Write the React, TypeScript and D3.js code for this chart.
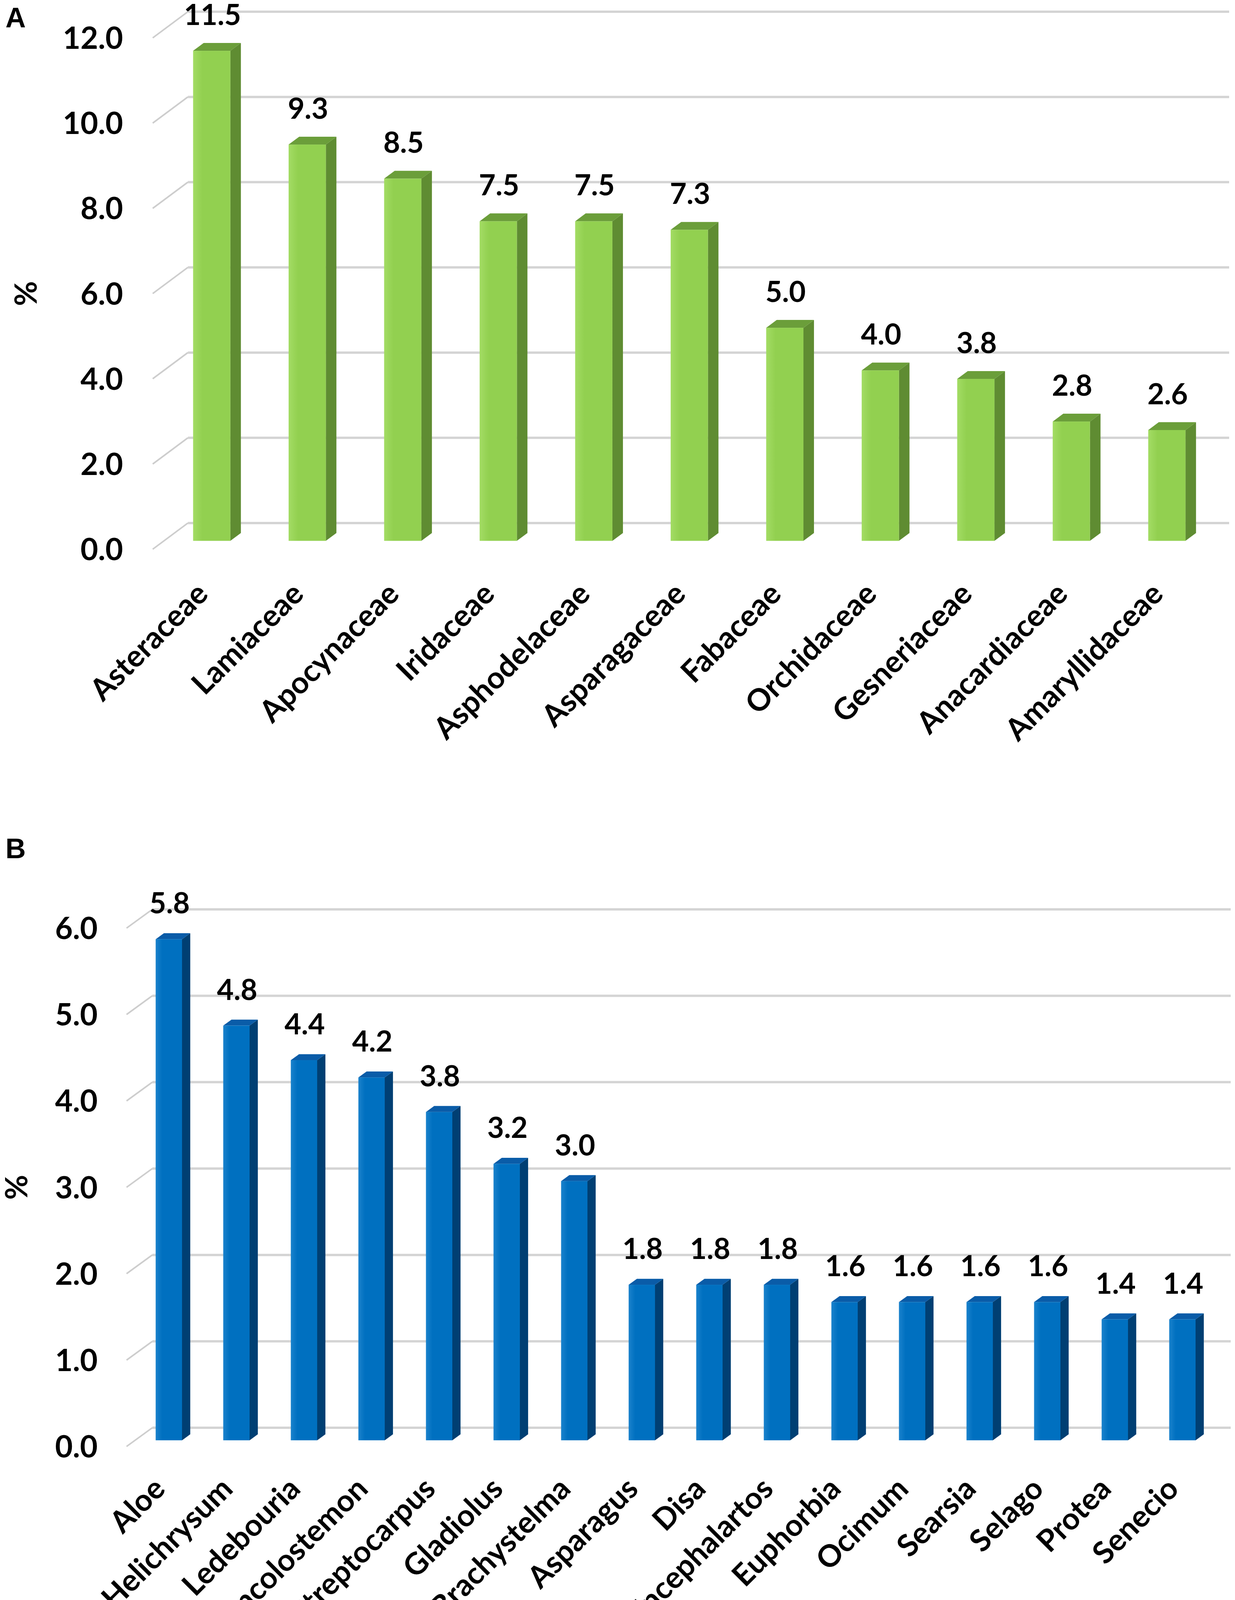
import React, { useEffect } from 'react';
import * as d3 from 'd3';

// Panel A: families
const familyNames = [
  'Asteraceae', 'Lamiaceae', 'Apocynaceae', 'Iridaceae', 'Asphodelaceae', 'Asparagaceae',
  'Fabaceae', 'Orchidaceae', 'Gesneriaceae', 'Anacardiaceae', 'Amaryllidaceae',
];
const familyValues = [11.5, 9.3, 8.5, 7.5, 7.5, 7.3, 5.0, 4.0, 3.8, 2.8, 2.6];
const familyTicks = [0, 2, 4, 6, 8, 10, 12];

// Panel B: genera
const genusNames = [
  'Aloe', 'Helichrysum', 'Ledebouria', 'Syncolostemon', 'Streptocarpus', 'Gladiolus',
  'Brachystelma', 'Asparagus', 'Disa', 'Encephalartos', 'Euphorbia', 'Ocimum',
  'Searsia', 'Selago', 'Protea', 'Senecio',
];
const genusValues = [5.8, 4.8, 4.4, 4.2, 3.8, 3.2, 3.0, 1.8, 1.8, 1.8, 1.6, 1.6, 1.6, 1.6, 1.4, 1.4];
const genusTicks = [0, 1, 2, 3, 4, 5, 6];

const FONT = 'Lato, Calibri, "Open Sans", sans-serif';
const fmt = d3.format('.1f');

interface PanelProps {
  id: string;
  letter: string;
  letterY: number;
  names: string[];
  values: number[];
  ticks: number[];
  x0: number;
  x1: number;
  xEnd: number;
  y0: number;
  yTop: number;
  dx: number;
  dy: number;
  z1: number;
  z2: number;
  tickX: number;
  pctX: number;
  labelDy: number;
  front: string;
  frontLight: string;
  side: string;
  top: string;
}

function Panel(p: PanelProps) {
  const x = d3.scaleBand<string>().domain(p.names).range([p.x0, p.x1]).paddingInner(0.61).paddingOuter(0.305);
  const y = d3.scaleLinear().domain([0, d3.max(p.ticks)!]).range([p.y0, p.yTop]);
  const bw = x.bandwidth();
  const d = p.z2 - p.z1;
  const fs = 78;

  return (
    <g>
      <defs>
        <linearGradient id={`front-${p.id}`} x1="0" x2="1" y1="0" y2="0">
          <stop offset="0" stopColor={p.frontLight} />
          <stop offset="0.25" stopColor={p.front} />
          <stop offset="1" stopColor={p.front} />
        </linearGradient>
      </defs>
      <text x={14} y={p.letterY} fontFamily='"Liberation Sans", Arial, sans-serif' fontWeight="bold" fontSize={72}>
        {p.letter}
      </text>

      {/* gridlines: diagonal on the side wall, then along the back wall */}
      {p.ticks.map((t) => (
        <g key={t} stroke="#d4d4d4" fill="none">
          <line x1={p.x0} y1={y(t)} x2={p.x0 + p.dx} y2={y(t) - p.dy} strokeWidth={4} stroke="#cdcdcd" />
          <line x1={p.x0 + p.dx} y1={y(t) - p.dy} x2={p.xEnd} y2={y(t) - p.dy} strokeWidth={6} />
        </g>
      ))}

      {/* y tick labels */}
      {p.ticks.map((t) => (
        <text key={t} x={p.tickX} y={y(t)} dy="0.36em" textAnchor="end" fontFamily={FONT} fontWeight="bold" fontSize={fs}>
          {fmt(t)}
        </text>
      ))}
      <text
        transform={`translate(${p.pctX},${(p.y0 + p.yTop) / 2}) rotate(-90)`}
        textAnchor="middle"
        dy="0.36em"
        fontFamily={FONT}
        fontWeight="bold"
        fontSize={fs}
      >
        %
      </text>

      {/* 3D bars */}
      {p.names.map((n, i) => {
        const v = p.values[i];
        const xl = x(n)! + p.z1 * p.dx;
        const xr = xl + bw;
        const yt = y(v) - p.z1 * p.dy;
        const yb = y(0) - p.z1 * p.dy;
        const ox = d * p.dx;
        const oy = d * p.dy;
        return (
          <g key={n}>
            <polygon points={`${xr},${yt} ${xr + ox},${yt - oy} ${xr + ox},${yb - oy} ${xr},${yb}`} fill={p.side} />
            <polygon points={`${xl},${yt} ${xl + ox},${yt - oy} ${xr + ox},${yt - oy} ${xr},${yt}`} fill={p.top} />
            <rect x={xl} y={yt} width={bw} height={yb - yt} fill={`url(#front-${p.id})`} />
            <text x={xl + bw / 2 + 2} y={yt - 66} textAnchor="middle" fontFamily={FONT} fontWeight="bold" fontSize={74}>
              {fmt(v)}
            </text>
          </g>
        );
      })}

      {/* category labels */}
      {p.names.map((n) => {
        const cx = x(n)! + bw / 2 + p.z1 * p.dx - 5;
        const cy = p.y0 + p.labelDy;
        return (
          <text
            key={n}
            transform={`translate(${cx},${cy}) rotate(-45)`}
            textAnchor="end"
            fontFamily={FONT}
            fontWeight="bold"
            fontSize={fs}
          >
            {n}
          </text>
        );
      })}
    </g>
  );
}

export default function App() {
  useEffect(() => {
    document.body.style.margin = '0';
  }, []);

  return (
    <svg width={3162} height={4205} viewBox="0 0 3162 4205" style={{ display: 'block', background: '#ffffff' }}>
      <Panel
        id="a"
        letter="A"
        letterY={70}
        names={familyNames}
        values={familyValues}
        ticks={familyTicks}
        x0={391}
        x1={3081}
        xEnd={3147}
        y0={1406}
        yTop={97}
        dx={90}
        dy={67}
        z1={0.32}
        z2={0.62}
        tickX={315}
        pctX={66}
        labelDy={119}
        front="#92d050"
        frontLight="#a3dc64"
        side="#5f8c32"
        top="#6b9e3a"
      />
      <Panel
        id="b"
        letter="B"
        letterY={2197}
        names={genusNames}
        values={genusValues}
        ticks={genusTicks}
        x0={324}
        x1={3092}
        xEnd={3151}
        y0={3703}
        yTop={2376}
        dx={66}
        dy={48}
        z1={0.33}
        z2={0.65}
        tickX={250}
        pctX={42}
        labelDy={113}
        front="#0070c0"
        frontLight="#1a82cc"
        side="#003f73"
        top="#0a5ca8"
      />
    </svg>
  );
}
